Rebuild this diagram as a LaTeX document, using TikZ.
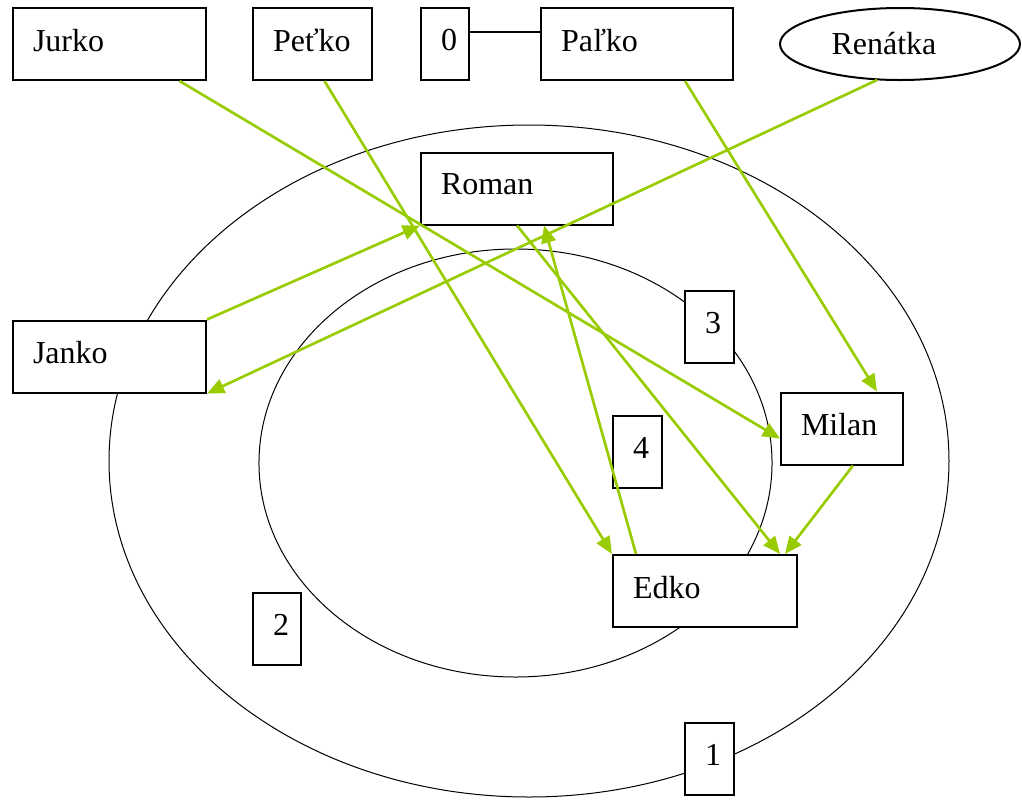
\documentclass[tikz,border=0pt]{standalone}
\usepackage{fontspec}
\setmainfont{Liberation Serif}
\usepackage{xcolor}
\usetikzlibrary{arrows.meta,shapes.geometric,calc}
\definecolor{lime}{RGB}{153,204,0}

\begin{document}
\begin{tikzpicture}[
  x=0.75pt, y=-0.75pt,
  font=\fontsize{24}{28}\selectfont,
  box/.style={rectangle, draw, fill=white, line width=1.5pt, inner xsep=15pt,
              inner ysep=0pt, minimum height=54pt, text depth=6pt,
              align=left, text width=#1},
  oval/.style={ellipse, draw, fill=white, line width=1.5pt, inner sep=0pt,
               minimum width=180pt, minimum height=54pt},
  ring/.style={line width=0.75pt},
  arrow/.style={-{Triangle[length=13pt,width=11pt]}, lime, line width=2pt}
]
\useasboundingbox (0,0) rectangle (1022,801);

% Rings
\draw[ring] (529,461) ellipse [x radius=315pt, y radius=252pt];
\draw[ring] (515.5,463) ellipse [x radius=192.4pt, y radius=160.5pt];

% Top row
\node[box=114.75pt] (jurko) at (109.5,44) {Jurko};
\node[box=59.25pt] (petko) at (312.5,44) {Peťko};
\node[box=6pt] (zero) at (445,44) {0};
\node[box=114pt] (palko) at (637,44) {Paľko};
\node[oval] (renatka) at (900,44) {Renátka\hspace*{24pt}};

% Inside the rings
\node[box=114pt] (roman) at (517,188.5) {Roman};
\node[box=114.75pt] (janko) at (109.5,356.5) {Janko};
\node[box=6.75pt] (three) at (709.5,327) {3};
\node[box=61.5pt] (milan) at (842,428.5) {Milan};
\node[box=6.75pt] (four) at (637.5,452) {4};
\node[box=108pt] (edko) at (705,591) {Edko};
\node[box=6pt] (two) at (277,628.5) {2};
\node[box=6.75pt] (one) at (709.5,759) {1};

% Link
\draw[line width=1.5pt] ($(zero.east)+(0,-12)$) -- ($(palko.west)+(0,-12)$);

% Arrows
\draw[arrow] ($(jurko.south)+(70,0)$) -- ($(milan.west)+(0,10)$);
\draw[arrow] ($(petko.south)+(12,0)$) -- (edko.north west);
\draw[arrow] ($(palko.south)+(48,0)$) -- ($(milan.north)+(35,0)$);
\draw[arrow] ($(renatka.south)+(-23,-1)$) -- (janko.south east);
\draw[arrow] (janko.north east) -- (roman.south west);
\draw[arrow] (roman.south) -- ($(edko.north)+(75,0)$);
\draw[arrow] ($(milan.south)+(11,0)$) -- ($(edko.north)+(80,0)$);
\draw[arrow] ($(edko.north west)+(24,0)$) -- ($(roman.south)+(27,0)$);

\end{tikzpicture}
\end{document}
